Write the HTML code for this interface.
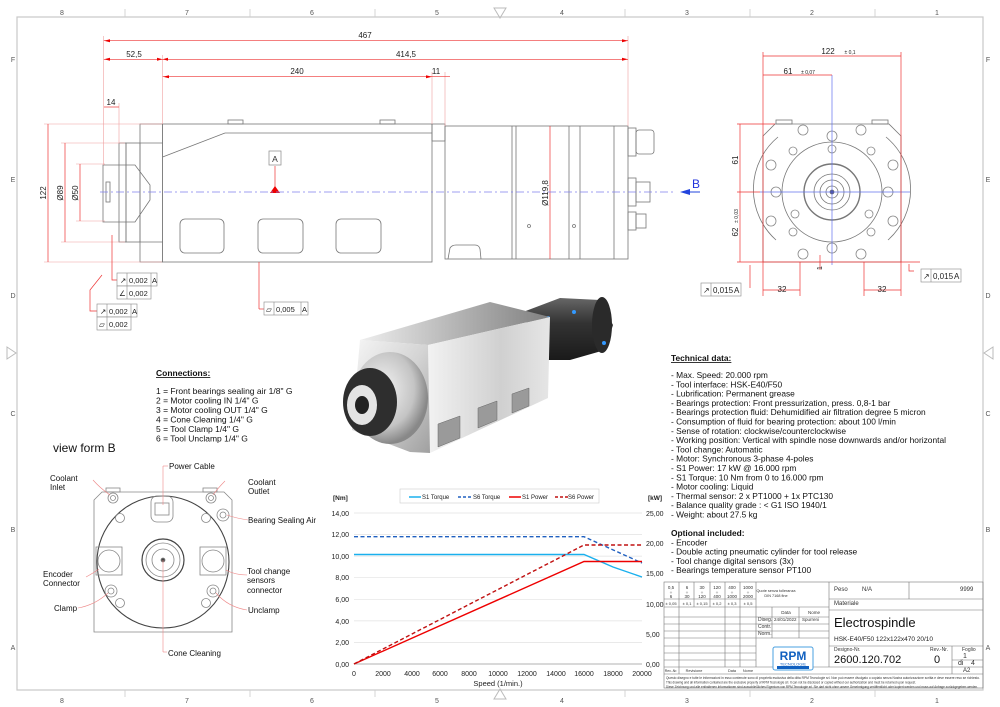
<!DOCTYPE html>
<html><head><meta charset="utf-8"><style>
html,body{margin:0;padding:0;background:#fff}
svg{display:block}
text{font-family:"Liberation Sans",sans-serif}
</style></head><body>
<svg width="1000" height="707" viewBox="0 0 1000 707" xmlns="http://www.w3.org/2000/svg">
<defs>
<linearGradient id="silv" x1="0" y1="0" x2="1" y2="1"><stop offset="0" stop-color="#f6f6f6"/><stop offset="0.5" stop-color="#d4d4d4"/><stop offset="1" stop-color="#a0a0a0"/></linearGradient>
<linearGradient id="silv2" x1="0" y1="0" x2="1" y2="0"><stop offset="0" stop-color="#f2f2f2"/><stop offset="0.6" stop-color="#d0d0d0"/><stop offset="1" stop-color="#e6e6e6"/></linearGradient>
<linearGradient id="dark" x1="0" y1="0" x2="0" y2="1"><stop offset="0" stop-color="#666"/><stop offset="0.4" stop-color="#333"/><stop offset="1" stop-color="#1a1a1a"/></linearGradient>
<linearGradient id="top" x1="0" y1="0" x2="1" y2="0"><stop offset="0" stop-color="#eee"/><stop offset="0.5" stop-color="#b5b5b5"/><stop offset="1" stop-color="#808080"/></linearGradient>
<radialGradient id="chrome" cx="0.4" cy="0.4" r="0.6"><stop offset="0" stop-color="#f4f4f4"/><stop offset="0.7" stop-color="#c4c4c4"/><stop offset="1" stop-color="#888"/></radialGradient>
</defs>
<rect x="17" y="17" width="966" height="673" fill="none" stroke="#c8c8c8" stroke-width="1.2"/>
<g font-size="7" fill="#555" text-anchor="middle">
<text x="62" y="15">8</text><text x="187" y="15">7</text><text x="312" y="15">6</text><text x="437" y="15">5</text><text x="562" y="15">4</text><text x="687" y="15">3</text><text x="812" y="15">2</text><text x="937" y="15">1</text>
<text x="62" y="703">8</text><text x="187" y="703">7</text><text x="312" y="703">6</text><text x="437" y="703">5</text><text x="562" y="703">4</text><text x="687" y="703">3</text><text x="812" y="703">2</text><text x="937" y="703">1</text>
<text x="13" y="62">F</text><text x="13" y="182">E</text><text x="13" y="298">D</text><text x="13" y="416">C</text><text x="13" y="532">B</text><text x="13" y="650">A</text>
<text x="988" y="62">F</text><text x="988" y="182">E</text><text x="988" y="298">D</text><text x="988" y="416">C</text><text x="988" y="532">B</text><text x="988" y="650">A</text>
</g>
<g stroke="#ccc" stroke-width="0.8">
<line x1="125" y1="9" x2="125" y2="17"/><line x1="250" y1="9" x2="250" y2="17"/><line x1="375" y1="9" x2="375" y2="17"/><line x1="625" y1="9" x2="625" y2="17"/><line x1="750" y1="9" x2="750" y2="17"/><line x1="875" y1="9" x2="875" y2="17"/>
<line x1="125" y1="690" x2="125" y2="697"/><line x1="250" y1="690" x2="250" y2="697"/><line x1="375" y1="690" x2="375" y2="697"/><line x1="625" y1="690" x2="625" y2="697"/><line x1="750" y1="690" x2="750" y2="697"/><line x1="875" y1="690" x2="875" y2="697"/>
</g>
<polygon points="494,8 506,8 500,18" fill="none" stroke="#bbb"/>
<polygon points="494,699 506,699 500,689" fill="none" stroke="#bbb"/>
<polygon points="7,347 7,359 16,353" fill="none" stroke="#bbb"/>
<polygon points="993,347 993,359 984,353" fill="none" stroke="#bbb"/>

<g fill="none" stroke="#777" stroke-width="0.8">
<rect x="162.6" y="124" width="269.4" height="138"/>
<line x1="225" y1="133" x2="432" y2="133"/>
<line x1="162.6" y1="157" x2="225" y2="133"/>
<rect x="228" y="120" width="15" height="4"/><rect x="380" y="120" width="15" height="4"/>
<rect x="140" y="124" width="22.6" height="138"/>
<line x1="140" y1="143" x2="162.6" y2="143"/><line x1="140" y1="242" x2="162.6" y2="242"/>
<rect x="119" y="143" width="7" height="99"/><rect x="126" y="143" width="14" height="99"/>
<polygon points="103,165 135,165 150,185 150,200 135,222 103,222"/>
<rect x="106" y="182" width="4" height="20"/>
<rect x="180" y="219" width="44" height="34" rx="5"/><rect x="258" y="219" width="45" height="34" rx="5"/><rect x="336" y="219" width="45" height="34" rx="5"/>
<rect x="432" y="124" width="13" height="17"/>
<rect x="445" y="126" width="183" height="133"/>
<line x1="512" y1="126" x2="512" y2="259"/><line x1="516" y1="126" x2="516" y2="259"/>
<line x1="569" y1="126" x2="569" y2="259"/><line x1="580" y1="126" x2="580" y2="259"/><line x1="614" y1="126" x2="614" y2="259"/>
<path d="M448,259 L450,248 Q452,245 456,245 L475,245 Q479,245 480,249 L481,259"/>
<circle cx="529" cy="226" r="1.5"/><circle cx="574" cy="226" r="1.5"/>
<rect x="628" y="128" width="8" height="28"/><rect x="636" y="130" width="18" height="24" rx="3"/>
<rect x="628" y="178" width="8" height="28"/><rect x="636" y="182" width="14" height="20"/>
<rect x="628" y="212" width="8" height="18"/><rect x="636" y="214" width="10" height="14"/>
</g>
<g stroke="#f0a0a0" stroke-width="0.6" fill="none">
<line x1="103.7" y1="36" x2="103.7" y2="165"/><line x1="628" y1="36" x2="628" y2="126"/>
<line x1="162.6" y1="55" x2="162.6" y2="124"/><line x1="432" y1="72" x2="432" y2="124"/><line x1="445" y1="72" x2="445" y2="126"/>
<line x1="119" y1="103" x2="119" y2="143"/>
<line x1="44" y1="124" x2="162" y2="124"/><line x1="44" y1="262" x2="162" y2="262"/>
<line x1="61" y1="143" x2="125" y2="143"/><line x1="61" y1="242" x2="125" y2="242"/>
<line x1="76" y1="164" x2="105" y2="164"/><line x1="76" y1="221" x2="105" y2="221"/>
</g>
<g stroke="#e33" stroke-width="0.7" fill="none">
<line x1="103.7" y1="40.7" x2="628" y2="40.7"/>
<line x1="103.7" y1="59.3" x2="628" y2="59.3"/>
<line x1="162.6" y1="76.7" x2="432" y2="76.7"/><line x1="432" y1="76.7" x2="450" y2="76.7"/>
<line x1="104" y1="107" x2="119" y2="107"/>
<line x1="48" y1="124" x2="48" y2="262"/><line x1="65" y1="143" x2="65" y2="242"/><line x1="80" y1="164" x2="80" y2="221"/>
<line x1="550" y1="126" x2="550" y2="259"/>
<line x1="275" y1="166" x2="275" y2="188"/>
<polyline points="117,280 112,280 112,235"/>
<polyline points="97,311 90,311 90,290 102,275"/>
<line x1="259" y1="262" x2="259" y2="309"/><line x1="259" y1="309" x2="264" y2="309"/>
</g>
<polygon points="270,193 280,193 275,186" fill="#e00"/>
<g fill="#e00"><polygon points="104,40.7 110,39.2 110,42.2"/><polygon points="628,40.7 622,39.2 622,42.2"/><polygon points="104,59.3 110,57.8 110,60.8"/><polygon points="628,59.3 622,57.8 622,60.8"/><polygon points="162.6,59.3 157,57.8 157,60.8"/><polygon points="162.6,59.3 168,57.8 168,60.8"/><polygon points="163,76.7 169,75.2 169,78.2"/><polygon points="432,76.7 426,75.2 426,78.2"/></g>
<line x1="100" y1="192" x2="675" y2="192" stroke="#8080ee" stroke-width="0.8" stroke-dasharray="8,3,2,3"/>
<line x1="682" y1="192" x2="700" y2="192" stroke="#2244dd" stroke-width="1"/>
<polygon points="680,192 690,189 690,195" fill="#2244dd"/>
<text x="692" y="188" font-size="12" fill="#2233dd">B</text>
<rect x="269" y="151" width="12" height="14" fill="#fff" stroke="#888" stroke-width="0.7"/>
<text x="275" y="162" font-size="8.5" text-anchor="middle" fill="#333">A</text>
<g font-size="8" fill="#222" text-anchor="middle">
<text x="365" y="38">467</text><text x="134" y="57">52,5</text><text x="406" y="57">414,5</text><text x="297" y="74">240</text><text x="436" y="74">11</text><text x="111" y="105">14</text>
<text transform="translate(46,193) rotate(-90)">122</text><text transform="translate(63,193) rotate(-90)">Ø89</text><text transform="translate(78,193) rotate(-90)">Ø50</text><text transform="translate(548,193) rotate(-90)">Ø119,8</text>
</g>
<g font-size="7.5" fill="#222" stroke-width="0.6">
<rect x="117" y="273" width="40" height="13" fill="#fff" stroke="#888"/><line x1="127" y1="273" x2="127" y2="286" stroke="#888"/><line x1="151" y1="273" x2="151" y2="286" stroke="#888"/><text x="120" y="283">↗</text><text x="129" y="283">0,002</text><text x="152" y="283">A</text>
<rect x="117" y="286" width="34" height="13" fill="#fff" stroke="#888"/><line x1="127" y1="286" x2="127" y2="299" stroke="#888"/><text x="119" y="296">∠</text><text x="129" y="296">0,002</text>
<rect x="97" y="304" width="40" height="13" fill="#fff" stroke="#888"/><line x1="107" y1="304" x2="107" y2="317" stroke="#888"/><line x1="131" y1="304" x2="131" y2="317" stroke="#888"/><text x="100" y="314">↗</text><text x="109" y="314">0,002</text><text x="132" y="314">A</text>
<rect x="97" y="317" width="34" height="13" fill="#fff" stroke="#888"/><line x1="107" y1="317" x2="107" y2="330" stroke="#888"/><text x="99" y="327">▱</text><text x="109" y="327">0,002</text>
<rect x="264" y="302" width="44" height="13" fill="#fff" stroke="#888"/><line x1="274" y1="302" x2="274" y2="315" stroke="#888"/><line x1="301" y1="302" x2="301" y2="315" stroke="#888"/><text x="266" y="312">▱</text><text x="276" y="312">0,005</text><text x="302" y="312">A</text>
</g>

<g fill="none" stroke="#777" stroke-width="0.8">
<polygon points="775,124 889,124 901,136 901,262 763,262 763,136"/>
<rect x="776" y="120" width="16" height="4"/><rect x="872" y="120" width="16" height="4"/>
<path d="M778,137 A68,68 0 0 0 776,240" /><path d="M886,137 A68,68 0 0 1 888,240"/>
<circle cx="832" cy="192" r="50"/><circle cx="832" cy="192" r="28" stroke-width="1.4"/><circle cx="832" cy="192" r="18"/><circle cx="832" cy="192" r="12"/><circle cx="832" cy="192" r="6"/><circle cx="832" cy="192" r="2" fill="#336"/>
<g stroke="#888">
<circle cx="832" cy="136" r="5"/><circle cx="832" cy="149" r="4"/><circle cx="832" cy="248" r="5"/>
<circle cx="803" cy="130" r="5"/><circle cx="861" cy="130" r="5"/><circle cx="803" cy="254" r="5"/><circle cx="861" cy="254" r="5"/>
<circle cx="771" cy="165" r="5"/><circle cx="893" cy="165" r="5"/><circle cx="771" cy="221" r="5"/><circle cx="893" cy="221" r="5"/>
<circle cx="776" cy="192" r="5"/><circle cx="888" cy="192" r="5"/>
<circle cx="793" cy="151" r="4"/><circle cx="871" cy="151" r="4"/><circle cx="793" cy="232" r="4"/><circle cx="871" cy="232" r="4"/>
<circle cx="795" cy="214" r="4"/><circle cx="869" cy="214" r="4"/>
</g>
</g>
<line x1="760" y1="192" x2="910" y2="192" stroke="#6070ee" stroke-width="0.7"/>
<line x1="832" y1="75" x2="832" y2="265" stroke="#6070ee" stroke-width="0.7"/>
<line x1="690" y1="192" x2="700" y2="192" stroke="#2244dd"/>
<g stroke="#e33" stroke-width="0.7" fill="none">
<line x1="763" y1="52" x2="763" y2="296"/><line x1="901" y1="52" x2="901" y2="296"/>
<line x1="763" y1="56" x2="901" y2="56"/><line x1="763" y1="75" x2="832" y2="75"/>
<line x1="737" y1="124" x2="775" y2="124"/><line x1="737" y1="262" x2="920" y2="262"/><line x1="737" y1="192" x2="760" y2="192"/>
<line x1="740" y1="124" x2="740" y2="262"/>
<line x1="800" y1="262" x2="800" y2="296"/><line x1="864" y1="262" x2="864" y2="296"/>
<line x1="763" y1="290" x2="800" y2="290"/><line x1="864" y1="290" x2="901" y2="290"/>
<line x1="820" y1="255" x2="820" y2="270"/>
<polyline points="750,288 750,265"/><polyline points="914,271 909,271 909,264"/>
</g>
<g font-size="8" fill="#222" text-anchor="middle">
<text x="828" y="54">122</text><text x="850" y="54" font-size="5">± 0,1</text>
<text x="788" y="74">61</text><text x="808" y="74" font-size="5">± 0,07</text>
<text transform="translate(738,160) rotate(-90)">61</text><text transform="translate(738,232) rotate(-90)">62</text><text transform="translate(738,216) rotate(-90)" font-size="5">± 0,03</text>
<text x="782" y="292">32</text><text x="882" y="292">32</text>
<text transform="translate(822,268) rotate(-90)" font-size="7">1</text>
</g>
<g font-size="8" fill="#222">
<rect x="701" y="283" width="40" height="13" fill="#fff" stroke="#888" stroke-width="0.6"/><line x1="711" y1="283" x2="711" y2="296" stroke="#888" stroke-width="0.6"/><text x="703" y="293">↗</text><text x="713" y="293">0,015</text><text x="734" y="293">A</text>
<rect x="921" y="269" width="40" height="13" fill="#fff" stroke="#888" stroke-width="0.6"/><line x1="931" y1="269" x2="931" y2="282" stroke="#888" stroke-width="0.6"/><text x="923" y="279">↗</text><text x="933" y="279">0,015</text><text x="954" y="279">A</text>
</g>

<!-- 3D render -->
<g>
<polygon points="523,312 560,298 600,300 613,325 605,350 570,360 540,360" fill="url(#dark)"/>
<ellipse cx="602" cy="325" rx="10" ry="28" fill="#2a2a2a"/>
<circle cx="574" cy="312" r="2" fill="#39f"/><circle cx="548" cy="318" r="2" fill="#39f"/><circle cx="604" cy="343" r="2" fill="#39f"/>
<polygon points="360,340 490,302 550,317 428,345" fill="url(#top)"/>
<polygon points="428,345 550,317 548,398 430,453" fill="url(#silv2)"/>
<polygon points="360,340 428,345 430,453 410,452 352,430" fill="url(#silv)"/>
<polygon points="438,424 460,416 460,438 438,447" fill="#9a9a9a" stroke="#666" stroke-width="0.5"/>
<polygon points="478,408 497,401 497,420 478,428" fill="#9a9a9a" stroke="#666" stroke-width="0.5"/>
<polygon points="512,394 529,388 529,406 512,413" fill="#9a9a9a" stroke="#666" stroke-width="0.5"/>
<ellipse cx="390" cy="398" rx="38" ry="46" fill="url(#chrome)"/>
<ellipse cx="370" cy="402" rx="27" ry="34" fill="#2e2e2e"/>
<ellipse cx="362" cy="405" rx="15" ry="20" fill="#e4e4e4"/>
<ellipse cx="362" cy="405" rx="7" ry="9" fill="#222"/>
</g>

<g font-size="8.5" fill="#111">
<text x="156" y="376" font-weight="bold" text-decoration="underline">Connections:</text>
<text x="156" y="394">1 = Front bearings sealing air 1/8" G</text>
<text x="156" y="403.5">2 = Motor cooling IN 1/4" G</text>
<text x="156" y="413">3 = Motor cooling OUT 1/4" G</text>
<text x="156" y="422.5">4 = Cone Cleaning 1/4" G</text>
<text x="156" y="432">5 = Tool Clamp 1/4" G</text>
<text x="156" y="441.5">6 = Tool Unclamp 1/4" G</text>
</g>

<text x="53" y="452" font-size="12" fill="#111">view form B</text>
<g fill="none" stroke="#888" stroke-width="0.8">
<polygon points="102,492 224,492 232,500 232,632 94,632 94,500"/>
<rect x="106" y="488" width="14" height="4"/><rect x="203" y="488" width="14" height="4"/>
<circle cx="163" cy="562" r="66" stroke="#444" stroke-width="1.1"/>
<circle cx="113" cy="498" r="5"/><circle cx="113" cy="498" r="2.5"/>
<circle cx="211" cy="498" r="5"/><circle cx="211" cy="498" r="2.5"/>
<circle cx="223" cy="515" r="6"/><circle cx="223" cy="515" r="3"/>
<circle cx="120" cy="518" r="4.5"/><circle cx="206" cy="518" r="4.5"/>
<circle cx="120" cy="603" r="4.5"/><circle cx="206" cy="603" r="4.5"/>
<rect x="151" y="496" width="22" height="26" rx="6"/><rect x="155" y="503" width="14" height="12"/>
<circle cx="163" cy="560" r="21" stroke="#444" stroke-width="1.2"/><circle cx="163" cy="560" r="17"/><circle cx="163" cy="560" r="11"/><circle cx="163" cy="560" r="2" fill="#444"/>
<rect x="96" y="547" width="26" height="28"/><circle cx="109" cy="561" r="11"/>
<rect x="200" y="547" width="26" height="28"/><circle cx="213" cy="561" r="11"/>
<circle cx="111" cy="591" r="6"/><circle cx="111" cy="591" r="3"/>
<circle cx="213" cy="591" r="6"/><circle cx="213" cy="591" r="3"/>
</g>
<g stroke="#e88" stroke-width="0.6" fill="none">
<path d="M93,480 Q100,488 110,495"/><path d="M225,481 Q218,488 213,495"/><path d="M248,520 Q235,518 227,515"/>
<line x1="163" y1="466" x2="163" y2="505"/><line x1="163" y1="466" x2="168" y2="466"/>
<line x1="163" y1="560" x2="163" y2="652"/><line x1="163" y1="652" x2="167" y2="652"/>
<path d="M86,577 Q95,572 99,569"/><path d="M78,608 Q95,605 108,593"/>
<path d="M247,575 Q235,575 226,570"/><path d="M247,610 Q228,607 216,593"/>
</g>
<g font-size="8" fill="#111">
<text x="50" y="481">Coolant</text><text x="50" y="490">Inlet</text>
<text x="169" y="469">Power Cable</text>
<text x="248" y="485">Coolant</text><text x="248" y="494">Outlet</text>
<text x="248" y="523">Bearing Sealing Air</text>
<text x="43" y="577">Encoder</text><text x="43" y="586">Connector</text>
<text x="54" y="611">Clamp</text>
<text x="247" y="574">Tool change</text><text x="247" y="583">sensors</text><text x="247" y="593">connector</text>
<text x="248" y="613">Unclamp</text>
<text x="168" y="656">Cone Cleaning</text>
</g>

<g font-size="7" fill="#222">
<g stroke="#e2e2e2" stroke-width="0.7">
<line x1="354" y1="513" x2="642" y2="513"/><line x1="354" y1="534.6" x2="642" y2="534.6"/><line x1="354" y1="556.1" x2="642" y2="556.1"/><line x1="354" y1="577.7" x2="642" y2="577.7"/><line x1="354" y1="599.3" x2="642" y2="599.3"/><line x1="354" y1="620.9" x2="642" y2="620.9"/><line x1="354" y1="642.4" x2="642" y2="642.4"/>
</g>
<line x1="354" y1="664" x2="642" y2="664" stroke="#999" stroke-width="0.8"/>
<text x="333" y="500" font-weight="bold" font-size="6.5">[Nm]</text><text x="648" y="500" font-weight="bold" font-size="6.5">[kW]</text>
<g text-anchor="end"><text x="349" y="516">14,00</text><text x="349" y="537">12,00</text><text x="349" y="559">10,00</text><text x="349" y="580">8,00</text><text x="349" y="602">6,00</text><text x="349" y="624">4,00</text><text x="349" y="645">2,00</text><text x="349" y="667">0,00</text></g>
<text x="646" y="516">25,00</text><text x="646" y="546">20,00</text><text x="646" y="576">15,00</text><text x="646" y="607">10,00</text><text x="646" y="637">5,00</text><text x="646" y="667">0,00</text>
<g text-anchor="middle"><text x="354" y="676">0</text><text x="383" y="676">2000</text><text x="412" y="676">4000</text><text x="440" y="676">6000</text><text x="469" y="676">8000</text><text x="498" y="676">10000</text><text x="527" y="676">12000</text><text x="556" y="676">14000</text><text x="584" y="676">16000</text><text x="613" y="676">18000</text><text x="642" y="676">20000</text>
<text x="498" y="686" font-size="7.5">Speed (1/min.)</text></g>
<rect x="400" y="489" width="199" height="14" fill="#fff" stroke="#ccc" stroke-width="0.6"/>
<line x1="409" y1="497" x2="421" y2="497" stroke="#1ab0ee" stroke-width="1.5"/><text x="422" y="499" font-size="6">S1 Torque</text>
<line x1="458" y1="497" x2="472" y2="497" stroke="#2060c0" stroke-width="1.5" stroke-dasharray="3,2"/><text x="473" y="499" font-size="6">S6 Torque</text>
<line x1="509" y1="497" x2="521" y2="497" stroke="#e00" stroke-width="1.5"/><text x="522" y="499" font-size="6">S1 Power</text>
<line x1="555" y1="497" x2="568" y2="497" stroke="#c01010" stroke-width="1.5" stroke-dasharray="3,2"/><text x="568" y="499" font-size="6">S6 Power</text>
</g>
<g fill="none" stroke-width="1.4">
<polyline points="354,554.5 584,554.5 613,567 642,577" stroke="#1ab0ee"/>
<polyline points="354,536.7 584,536.7 642,563" stroke="#2060c0" stroke-dasharray="4,2.5"/>
<polyline points="354,664 584,561.5 642,561.5" stroke="#e00"/>
<polyline points="354,664 584,545 642,545" stroke="#c01010" stroke-dasharray="4,2.5"/>
</g>

<g font-size="8.4" fill="#111">
<text x="671" y="361" font-weight="bold" text-decoration="underline">Technical data:</text>
<text x="671" y="378">- Max. Speed: 20.000 rpm</text>
<text x="671" y="387.3">- Tool interface: HSK-E40/F50</text>
<text x="671" y="396.6">- Lubrification: Permanent grease</text>
<text x="671" y="405.9">- Bearings protection: Front pressurization, press. 0,8-1 bar</text>
<text x="671" y="415.2">- Bearings protection fluid: Dehumidified air filtration degree 5 micron</text>
<text x="671" y="424.5">- Consumption of fluid for bearing protection: about 100 l/min</text>
<text x="671" y="433.8">- Sense of rotation: clockwise/counterclockwise</text>
<text x="671" y="443.1">- Working position: Vertical with spindle nose downwards and/or horizontal</text>
<text x="671" y="452.4">- Tool change: Automatic</text>
<text x="671" y="461.7">- Motor: Synchronous 3-phase 4-poles</text>
<text x="671" y="471">- S1 Power: 17 kW @ 16.000 rpm</text>
<text x="671" y="480.3">- S1 Torque: 10 Nm from 0 to 16.000 rpm</text>
<text x="671" y="489.6">- Motor cooling: Liquid</text>
<text x="671" y="498.9">- Thermal sensor: 2 x PT1000 + 1x PTC130</text>
<text x="671" y="508.2">- Balance quality grade : &lt; G1 ISO 1940/1</text>
<text x="671" y="517.5">- Weight: about 27.5 kg</text>
<text x="671" y="536" font-weight="bold">Optional included:</text>
<text x="671" y="545.3">- Encoder</text>
<text x="671" y="554.6">- Double acting pneumatic cylinder for tool release</text>
<text x="671" y="563.9">- Tool change digital sensors (3x)</text>
<text x="671" y="573.2">- Bearings temperature sensor PT100</text>
</g>

<g fill="none" stroke="#777" stroke-width="0.6">
<rect x="664" y="582" width="319" height="106"/>
<line x1="756" y1="582" x2="756" y2="667"/><line x1="829" y1="582" x2="829" y2="667"/>
<line x1="664" y1="599" x2="756" y2="599"/><line x1="664" y1="607" x2="829" y2="607"/>
<line x1="664" y1="617" x2="829" y2="617"/><line x1="664" y1="624" x2="829" y2="624"/><line x1="664" y1="631" x2="829" y2="631"/><line x1="664" y1="638" x2="829" y2="638"/><line x1="664" y1="646" x2="756" y2="646"/><line x1="664" y1="653" x2="756" y2="653"/><line x1="664" y1="660" x2="756" y2="660"/><line x1="664" y1="667" x2="983" y2="667"/><line x1="664" y1="674" x2="983" y2="674"/>
<line x1="679" y1="582" x2="679" y2="674"/><line x1="694" y1="582" x2="694" y2="607"/><line x1="710" y1="582" x2="710" y2="607"/><line x1="725" y1="582" x2="725" y2="667"/><line x1="740" y1="582" x2="740" y2="667"/>
<line x1="772" y1="607" x2="772" y2="638"/><line x1="799" y1="607" x2="799" y2="638"/>
<line x1="829" y1="599" x2="983" y2="599"/><line x1="909" y1="582" x2="909" y2="599"/><line x1="829" y1="610" x2="983" y2="610"/>
<line x1="829" y1="646" x2="983" y2="646"/><line x1="952" y1="646" x2="952" y2="674"/><line x1="952" y1="660" x2="983" y2="660"/>
</g>
<g font-size="4.5" fill="#333" text-anchor="middle">
<text x="671" y="589">0,5</text><text x="671" y="594">÷</text><text x="671" y="598">6</text>
<text x="687" y="589">6</text><text x="687" y="594">÷</text><text x="687" y="598">30</text>
<text x="702" y="589">30</text><text x="702" y="594">÷</text><text x="702" y="598">120</text>
<text x="717" y="589">120</text><text x="717" y="594">÷</text><text x="717" y="598">400</text>
<text x="732" y="589">400</text><text x="732" y="594">÷</text><text x="732" y="598">1000</text>
<text x="748" y="589">1000</text><text x="748" y="594">÷</text><text x="748" y="598">2000</text>
<text x="671" y="605" font-size="4">± 0,05</text><text x="687" y="605" font-size="4">± 0,1</text><text x="702" y="605" font-size="4">± 0,15</text><text x="717" y="605" font-size="4">± 0,2</text><text x="732" y="605" font-size="4">± 0,3</text><text x="748" y="605" font-size="4">± 0,5</text>
<text x="776" y="592" font-size="3.8">Quote senza tolleranza</text><text x="776" y="597" font-size="3.8">DIN 7168 fine</text>
<text x="786" y="614">Data</text><text x="814" y="614">Nome</text>
<text x="694" y="672" font-size="3.8">Revisione</text><text x="732" y="672" font-size="3.8">Data</text><text x="748" y="672" font-size="3.8">Nome</text><text x="671" y="672" font-size="3.5">Rev.-Nr.</text>
</g>
<g font-size="5" fill="#333">
<text x="758" y="621">Diseg.</text><text x="774" y="621" font-size="4.5">24/01/2022</text><text x="802" y="621" font-size="4.5">Spurreni</text>
<text x="758" y="628">Contr.</text><text x="758" y="635">Norm.</text>
<text x="834" y="591" font-size="6">Peso</text><text x="862" y="591" font-size="6">N/A</text><text x="960" y="591" font-size="6">9999</text>
<text x="834" y="605" font-size="6">Materiale</text>
<text x="834" y="651">Designo-Nr.</text><text x="930" y="651">Rev.-Nr.</text><text x="962" y="651">Foglio</text>
<text x="963" y="658" font-size="7">1</text><text x="958" y="665" font-size="7">di</text><text x="971" y="665" font-size="7">4</text><text x="963" y="672" font-size="6">A2</text>
</g>
<text x="834" y="627" font-size="13" fill="#111">Electrospindle</text>
<text x="834" y="641" font-size="6.5" fill="#222">HSK-E40/F50 122x122x470  20/10</text>
<text x="834" y="663" font-size="11" fill="#111">2600.120.702</text>
<text x="934" y="663" font-size="11" fill="#111">0</text>
<rect x="773" y="647" width="40" height="23" rx="2" fill="#fff" stroke="#4aa0e0" stroke-width="1"/>
<text x="793" y="660" font-size="12" font-weight="bold" fill="#1060c0" text-anchor="middle">RPM</text>
<text x="793" y="665.5" font-size="4" fill="#1060c0" text-anchor="middle">TECNOLOGIE</text>
<rect x="777" y="666" width="32" height="3" fill="#1060c0"/>
<g font-size="3.4" fill="#333">
<text x="666" y="679" textLength="314" lengthAdjust="spacingAndGlyphs">Questo disegno e tutte le informazioni in esso contenute sono di proprietà esclusiva della ditta RPM Tecnologie srl. Non può essere divulgato o copiato senza Nostra autorizzazione scritta e deve essere reso se richiesto.</text>
<text x="666" y="683.5" textLength="250" lengthAdjust="spacingAndGlyphs">This drawing and all information contained are the exclusive property of RPM Tecnologie srl. It can not be disclosed or copied without our authorization and must be returned upon request.</text>
<text x="666" y="688" textLength="312" lengthAdjust="spacingAndGlyphs">Diese Zeichnung und alle enthaltenen Informationen sind ausschließliches Eigentum von RPM Tecnologie srl. Sie darf nicht ohne unsere Genehmigung veröffentlicht oder kopiert werden und muss auf Anfrage zurückgegeben werden.</text>
</g>
</svg>
</body></html>
